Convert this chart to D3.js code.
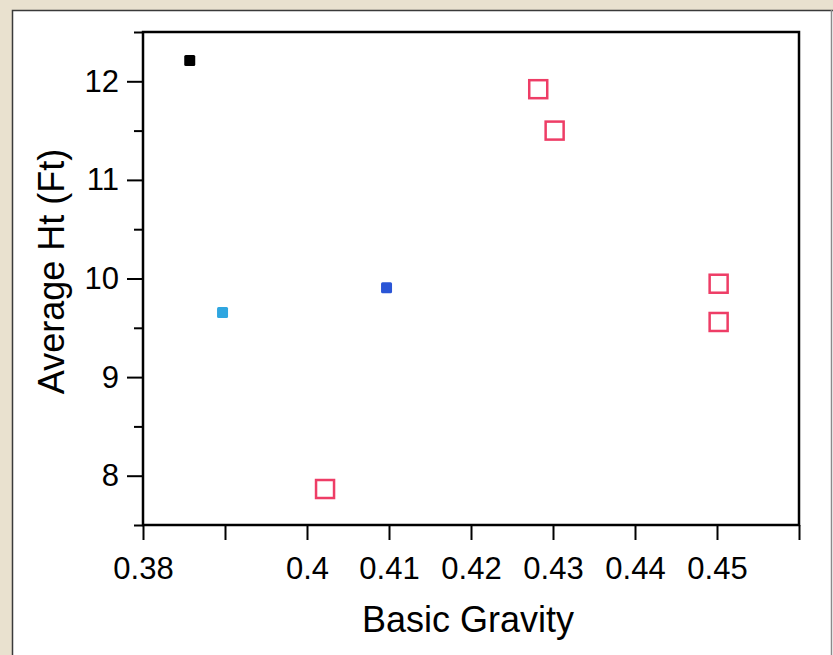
<!DOCTYPE html>
<html>
<head>
<meta charset="utf-8">
<script src="https://cdn.jsdelivr.net/npm/d3@7"></script>
<style>
  body { margin: 0; background: #e9e1cf; }
  svg { display: block; font-family: "Liberation Sans", Arial, sans-serif; }
</style>
</head>
<body>
<svg id="chart" width="833" height="655"></svg>
<script>
"use strict";

// points
const gravity = [0.3857, 0.3897, 0.4097, 0.4022, 0.4282, 0.4302, 0.4502, 0.4502];
const height  = [12.21, 9.656, 9.906, 7.865, 11.92, 11.50, 9.947, 9.559];
const group   = ["black", "light", "blue", "open", "open", "open", "open", "open"];

const xTicks = [0.38, 0.39, 0.40, 0.41, 0.42, 0.43, 0.44, 0.45, 0.46];
const xLabels = ["0.38", "", "0.4", "0.41", "0.42", "0.43", "0.44", "0.45", ""];
const yTicks = [8, 9, 10, 11, 12];
const yMinor = [7.5, 8.5, 9.5, 10.5, 11.5, 12.5];

const FONT = "'Liberation Sans', Arial, sans-serif";
const svg = d3.select("#chart");

// white panel
svg.append("rect")
    .attr("x", 12.5).attr("y", 10.5)
    .attr("width", 830).attr("height", 700)
    .style("fill", "#ffffff")
    .style("stroke", "#3a3a3a")
    .style("stroke-width", 1.5);
svg.append("line")
    .attr("x1", 831.5).attr("x2", 831.5).attr("y1", 10).attr("y2", 655)
    .style("stroke", "#8a8a8a").style("stroke-width", 1.5);

const x = d3.scaleLinear().domain([0.38, 0.46]).range([143, 799]);
const y = d3.scaleLinear().domain([7.5, 12.5]).range([525, 32]);

// x axis
const gx = svg.append("g")
    .attr("transform", "translate(0," + y(7.5) + ")")
    .call(d3.axisBottom(x).tickValues(xTicks).tickSize(15).tickPadding(17)
        .tickFormat((d, i) => xLabels[i]));
gx.attr("font-size", 31).attr("font-family", FONT);
gx.select(".domain").remove();
gx.selectAll("line").style("stroke", "#000").style("stroke-width", 2);
gx.selectAll("text").attr("fill", "#000");

// y axis, majors and minors
const gy = svg.append("g")
    .attr("transform", "translate(" + x(0.38) + ",0)")
    .call(d3.axisLeft(y).tickValues(yTicks).tickSize(16).tickPadding(8)
        .tickFormat(d3.format("d")));
gy.attr("font-size", 31).attr("font-family", FONT);
gy.select(".domain").remove();
gy.selectAll("line").style("stroke", "#000").style("stroke-width", 2);
gy.selectAll("text").attr("fill", "#000");

const gm = svg.append("g")
    .attr("transform", "translate(" + x(0.38) + ",0)")
    .call(d3.axisLeft(y).tickValues(yMinor).tickSize(9).tickFormat(""));
gm.select(".domain").remove();
gm.selectAll("line").style("stroke", "#000").style("stroke-width", 2);

// frame
svg.append("rect")
    .attr("x", x(0.38)).attr("y", y(12.5))
    .attr("width", x(0.46) - x(0.38))
    .attr("height", y(7.5) - y(12.5))
    .style("fill", "none")
    .style("stroke", "#000")
    .style("stroke-width", 2.5);

// markers
const fills = { black: "#000000", light: "#2fa6e0", blue: "#2a55d6" };
const pts = gravity.map((g, i) => ({ g: g, h: height[i], k: group[i] }));

svg.selectAll("rect.filled")
    .data(pts.filter(d => d.k !== "open"))
    .enter()
    .append("rect")
    .attr("class", "filled")
    .attr("x", d => x(d.g) - 5.5)
    .attr("y", d => y(d.h) - 5.5)
    .attr("width", 11).attr("height", 11)
    .attr("rx", 1.5)
    .style("fill", d => fills[d.k]);

svg.selectAll("rect.open")
    .data(pts.filter(d => d.k === "open"))
    .enter()
    .append("rect")
    .attr("class", "open")
    .attr("x", d => x(d.g) - 9)
    .attr("y", d => y(d.h) - 9)
    .attr("width", 18).attr("height", 18)
    .style("fill", "none")
    .style("stroke", "#ee3d66")
    .style("stroke-width", 2.5);

// axis titles
svg.append("text")
    .attr("x", (x(0.38) + x(0.46)) / 2 - 3)
    .attr("y", 632)
    .attr("text-anchor", "middle")
    .style("font-size", "36px")
    .text("Basic Gravity");

svg.append("text")
    .attr("transform", "translate(64," + (y(10) - 7) + ") rotate(-90)")
    .attr("text-anchor", "middle")
    .style("font-size", "36px")
    .text("Average Ht (Ft)");
</script>
</body>
</html>
